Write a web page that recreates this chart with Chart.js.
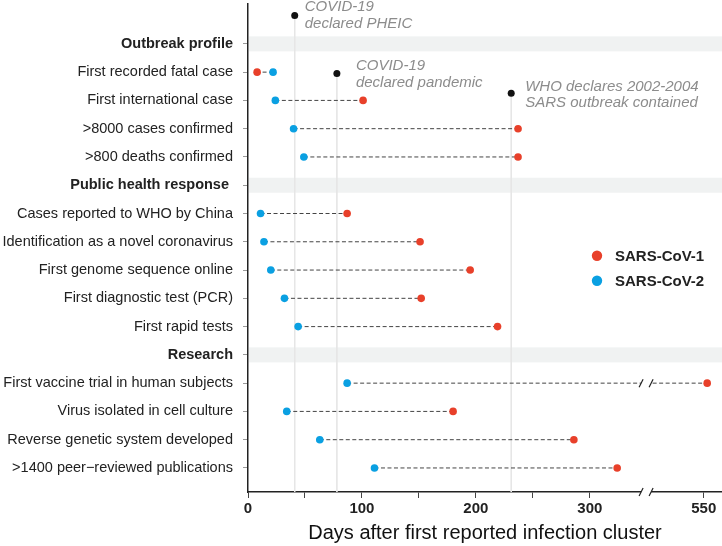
<!DOCTYPE html>
<html>
<head>
<meta charset="utf-8">
<script src="https://cdn.jsdelivr.net/npm/chart.js@4.4.0/dist/chart.umd.min.js"></script>
<style>
  html, body { margin: 0; padding: 0; background: #fff; }
  #wrap { width: 722px; height: 546px; }
</style>
</head>
<body>
<div id="wrap"><canvas id="chart"></canvas></div>
<script>
/* Dumbbell chart: SARS-CoV-1 vs SARS-CoV-2 milestones */

const categories = [
    'Outbreak profile',
    'First recorded fatal case',
    'First international case',
    '>8000 cases confirmed',
    '>800 deaths confirmed',
    'Public health response ',
    'Cases reported to WHO by China',
    'Identification as a novel coronavirus',
    'First genome sequence online',
    'First diagnostic test (PCR)',
    'First rapid tests',
    'Research',
    'First vaccine trial in human subjects',
    'Virus isolated in cell culture',
    'Reverse genetic system developed',
    '>1400 peer\u2212reviewed publications'
];
const headers = ['Outbreak profile', 'Public health response ', 'Research'];

// days after first reported infection cluster
const sarsCov1 = [null, 8, 101, 237, 237, null, 87, 151, 195, 152, 219, null, 553, 180, 286, 324];
const sarsCov2 = [null, 22, 24, 40, 49, null, 11, 14, 20, 32, 44, null, 87, 34, 63, 111];

// milestone events (day, row position)
const eventDays = [41, 78, 231];
const eventRows = [-1, 1.05, 1.75];
const eventLabels = [
    ['COVID-19', 'declared PHEIC'],
    ['COVID-19', 'declared pandemic'],
    ['WHO declares 2002-2004', 'SARS outbreak contained']
];

const xTickValues = [0, 50, 100, 150, 200, 250, 300, 550];
const xTickLabels = ['0', '', '100', '', '200', '', '300', '550'];

const seriesNames = ['SARS-CoV-1', 'SARS-CoV-2'];
const RED = '#e8402a';
const BLUE = '#0aa0e2';
const FONT = "'Liberation Sans', Arial, sans-serif";

// axis break: values past BREAK_END are shifted left
const BREAK_START = 345, BREAK_END = 500, BREAK_SHIFT = 150;
const disp = v => (v >= BREAK_END ? v - BREAK_SHIFT : v);

const Y_MIN = -1.41, Y_MAX = 15.85;

const labelOffsets = [[10, -9, 8], [19, -8, 9], [14, -7, 9]];

const datasets = [];

// points
datasets.push({
    label: seriesNames[0],
    data: sarsCov1.map((v, i) => v == null ? null : { x: disp(v), y: i }).filter(p => p),
    backgroundColor: RED, borderWidth: 0, pointRadius: 3.8, order: 0
});
datasets.push({
    label: seriesNames[1],
    data: sarsCov2.map((v, i) => v == null ? null : { x: disp(v), y: i }).filter(p => p),
    backgroundColor: BLUE, borderWidth: 0, pointRadius: 3.8, order: 0
});
datasets.push({
    label: 'events',
    data: eventDays.map((d, i) => ({ x: d, y: eventRows[i] })),
    backgroundColor: '#111', borderWidth: 0, pointRadius: 3.5, order: 0
});

// dashed connectors
sarsCov1.forEach((v, i) => {
    if (v == null) return;
    datasets.push({
        data: [{ x: disp(sarsCov2[i]), y: i }, { x: disp(v), y: i }],
        showLine: true, borderColor: '#444', borderWidth: 1, borderDash: [4, 2.5],
        pointRadius: 0, order: 1
    });
});

// event lines
eventDays.forEach((d, i) => {
    datasets.push({
        data: [{ x: d, y: eventRows[i] }, { x: d, y: Y_MAX }],
        showLine: true, borderColor: '#e6e6e6', borderWidth: 1,
        pointRadius: 0, order: 2
    });
});

const extras = {
    id: 'extras',
    beforeDatasetsDraw(chart) {
        const { ctx, chartArea, scales: { y } } = chart;
        ctx.save();
        ctx.fillStyle = '#f0f2f2';
        headers.forEach(h => {
            const py = y.getPixelForValue(categories.indexOf(h));
            ctx.fillRect(chartArea.left + 1, py - 7.5, chartArea.right - chartArea.left, 15);
        });
        ctx.restore();
    },
    afterDatasetsDraw(chart) {
        const { ctx, chartArea, scales: { x, y } } = chart;
        ctx.save();
        // axis break
        const x0 = x.getPixelForValue(BREAK_START);
        const x1 = x0 + 10;
        const rows = [y.getPixelForValue(categories.indexOf('First vaccine trial in human subjects')), chartArea.bottom];
        rows.forEach(py => {
            ctx.fillStyle = '#fff';
            ctx.fillRect(x0, py - 3, x1 - x0, 6);
            ctx.strokeStyle = '#222';
            ctx.lineWidth = 1.2;
            [x0, x1].forEach(bx => {
                ctx.beginPath();
                ctx.moveTo(bx - 2, py + 4);
                ctx.lineTo(bx + 2, py - 4);
                ctx.stroke();
            });
        });

        // event annotations
        ctx.font = 'italic 15px ' + FONT;
        ctx.fillStyle = '#8c8c8c';
        ctx.textBaseline = 'middle';
        ctx.textAlign = 'left';
        eventDays.forEach((d, i) => {
            const px = x.getPixelForValue(d);
            const py = y.getPixelForValue(eventRows[i]);
            const o = labelOffsets[i];
            ctx.fillText(eventLabels[i][0], px + o[0], py + o[1]);
            ctx.fillText(eventLabels[i][1], px + o[0], py + o[2]);
        });

        // legend
        const lx = chartArea.right - 125;
        const ly = y.getPixelForValue(categories.indexOf('Identification as a novel coronavirus')) + 14;
        ctx.font = 'bold 15px ' + FONT;
        ctx.fillStyle = '#222';
        [RED, BLUE].forEach((c, i) => {
            ctx.beginPath();
            ctx.fillStyle = c;
            ctx.arc(lx, ly + i * 25, 5.2, 0, Math.PI * 2);
            ctx.fill();
            ctx.fillStyle = '#222';
            ctx.fillText(seriesNames[i], lx + 18, ly + i * 25 + 1);
        });
        ctx.restore();
    }
};

new Chart(document.getElementById('chart'), {
    type: 'scatter',
    data: { datasets },
    plugins: [extras],
    options: {
        responsive: true,
        maintainAspectRatio: false,
        animation: false,
        layout: { autoPadding: false, padding: { top: 4, right: 0, left: 0, bottom: 0 } },
        plugins: {
            legend: { display: false },
            tooltip: { enabled: false }
        },
        scales: {
            x: {
                type: 'linear',
                min: 0,
                max: 416,
                afterBuildTicks: scale => {
                    scale.ticks = xTickValues.map(v => ({ value: disp(v) }));
                },
                afterFit: scale => {
                    scale.height = 54;
                    scale.paddingLeft = 0;
                    scale.paddingRight = 0;
                },
                ticks: {
                    autoSkip: false,
                    maxRotation: 0,
                    padding: 2,
                    color: '#222',
                    font: { family: FONT, size: 15, weight: 'bold' },
                    callback: (v, idx) => xTickLabels[idx]
                },
                grid: { drawOnChartArea: false, tickLength: 6, color: '#444' },
                border: { color: '#222', width: 1.5 },
                title: {
                    display: true,
                    text: 'Days after first reported infection cluster',
                    color: '#111',
                    font: { family: FONT, size: 20 },
                    padding: { top: 0, bottom: 1 }
                }
            },
            y: {
                type: 'linear',
                reverse: true,
                min: Y_MIN,
                max: Y_MAX,
                afterBuildTicks: scale => {
                    scale.ticks = categories.map((c, i) => ({ value: i }));
                },
                afterFit: scale => {
                    scale.width = 248;
                    scale.paddingTop = 0;
                    scale.paddingBottom = 0;
                },
                ticks: {
                    autoSkip: false,
                    padding: 10,
                    color: '#222',
                    font: ctx => ({
                        family: FONT,
                        size: 14.5,
                        weight: headers.includes(categories[ctx.tick ? ctx.tick.value : 0]) ? 'bold' : 'normal'
                    }),
                    callback: v => categories[v]
                },
                grid: { drawOnChartArea: false, tickLength: 5, color: '#999' },
                border: { color: '#222', width: 1.5 }
            }
        }
    }
});
</script>
</body>
</html>
